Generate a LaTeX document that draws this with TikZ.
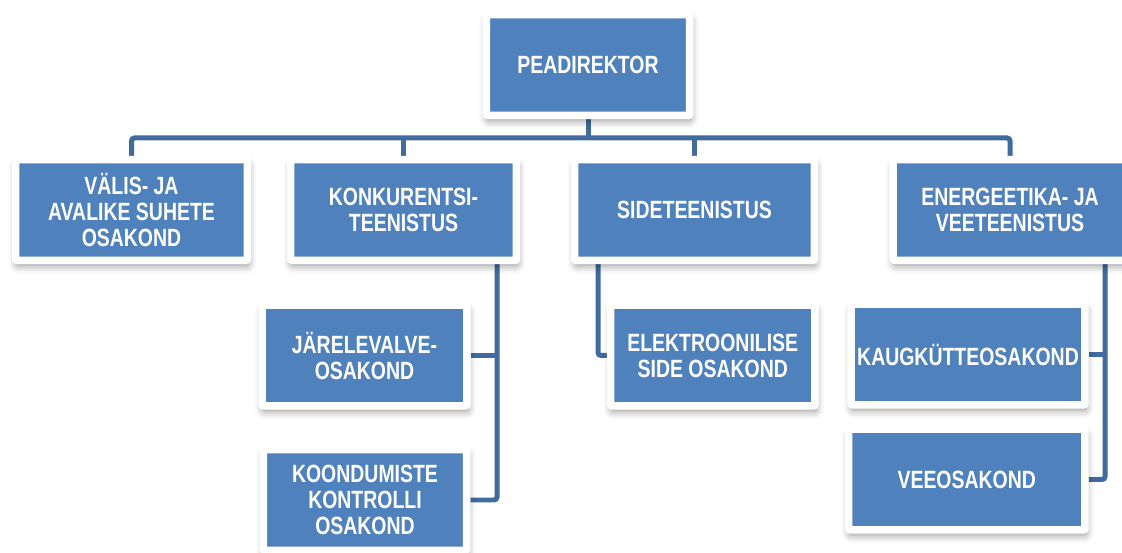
\documentclass[tikz,border=0pt]{standalone}
\usepackage{fontspec}
\setmainfont{Liberation Sans}[FakeStretch=0.78]
\usetikzlibrary{shadows.blur,backgrounds}
\definecolor{boxblue}{HTML}{4F81BD}
\definecolor{linkblue}{HTML}{3F6B9E}
\tikzset{
  unit/.style={fill=boxblue, draw=white, line width=0.15cm, rounded corners=0.04cm,
    blur shadow={shadow xshift=0.02cm, shadow yshift=-0.1cm, shadow blur radius=0.16cm,
      shadow opacity=45},
    minimum height=2.02cm, inner sep=0pt, align=center, text=white,
    font=\fontsize{14.2}{14.8}\selectfont\bfseries},
  link/.style={linkblue, line width=0.1cm, rounded corners=0.06cm}
}
\begin{document}
\begin{tikzpicture}[x=0.02cm, y=-0.02cm]
        \useasboundingbox (0,0) rectangle (1122,553);
        \clip (0,0) rectangle (1122,553);
        % top
        \node[unit, minimum width=4.07cm] (chief) at (588,65) {PEADIREKTOR};
        % services
        \node[unit, minimum width=4.64cm] (valis) at (131.5,210) {VÄLIS- JA\\AVALIKE SUHETE\\OSAKOND};
        \node[unit, minimum width=4.52cm] (konk) at (403.5,210) {KONKURENTSI-\\TEENISTUS};
        \node[unit, minimum width=4.8cm] (side) at (694.5,210) {SIDETEENISTUS};
        \node[unit, minimum width=4.68cm] (energ) at (1010,210) {ENERGEETIKA- JA\\VEETEENISTUS};
        % departments
        \node[unit, minimum width=4.1cm] (jarel) at (364.5,355.5) {JÄRELEVALVE-\\OSAKOND};
        \node[unit, minimum width=4.07cm] (koond) at (365,500) {KOONDUMISTE\\KONTROLLI\\OSAKOND};
        \node[unit, minimum width=4.09cm] (elektr) at (712.75,355.5) {ELEKTROONILISE\\SIDE OSAKOND};
        \node[unit, minimum width=4.68cm] (kaug) at (968,354.5) {KAUGKÜTTEOSAKOND};
        \node[unit, minimum width=4.73cm] (vee) at (966.75,479.5) {VEEOSAKOND};
        % connectors
        \begin{scope}[on background layer]
        \coordinate (bus) at (588,138);
        \draw[link] (chief) -- (chief |- bus);
        \draw[link] (valis.north) |- (bus) -| (energ.north);
        \draw[link] (konk) -- (konk |- bus);
        \draw[link] (side) -- (side |- bus);
        \coordinate (kspine) at (497,210);
        \draw[link] (kspine) |- (koond.east);
        \draw[link] (jarel.east) -- (jarel.east -| kspine);
        \coordinate (sspine) at (598,210);
        \draw[link] (sspine) |- (elektr.west);
        \coordinate (espine) at (1105,210);
        \draw[link] (espine) |- (vee.east);
        \draw[link] (kaug.east) -- (kaug.east -| espine);
        \end{scope}
\end{tikzpicture}
\end{document}
